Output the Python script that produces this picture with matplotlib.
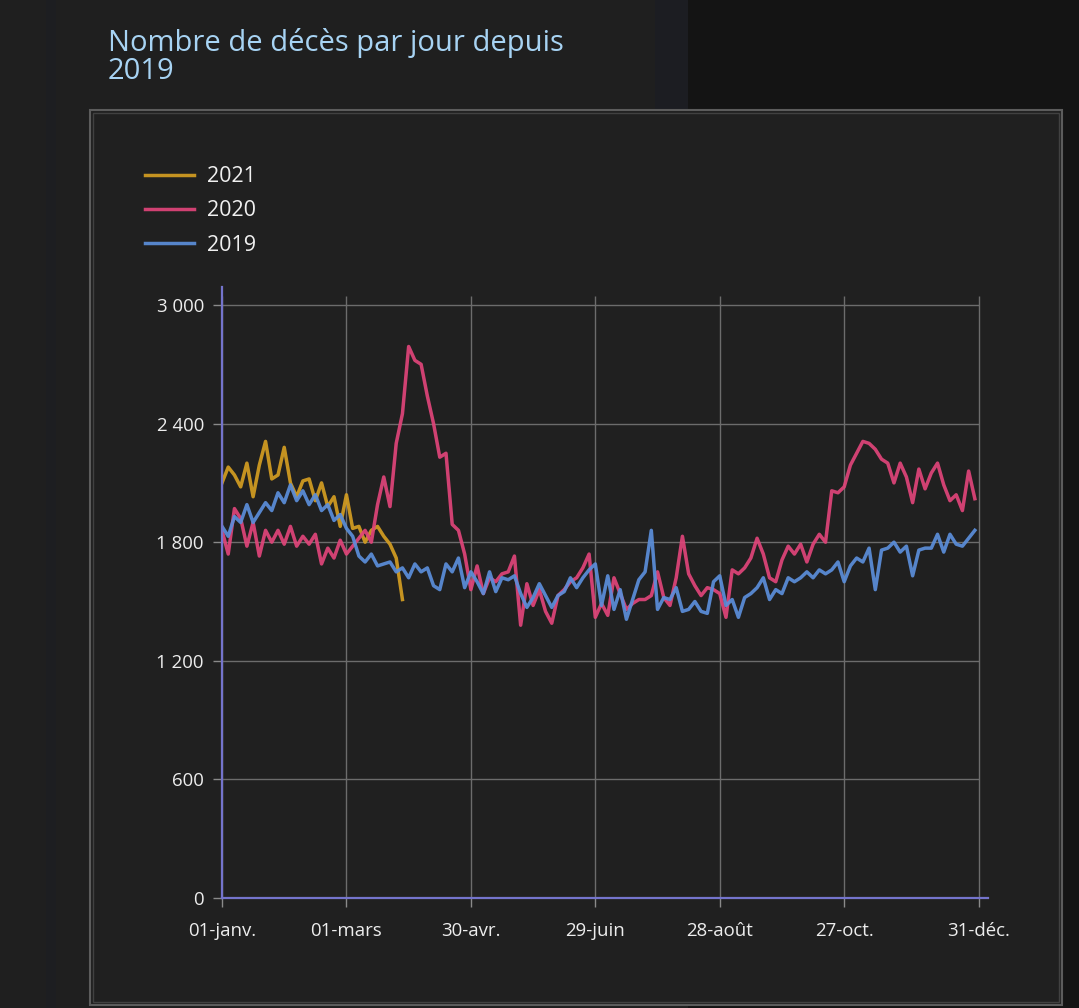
import numpy as np
import matplotlib
matplotlib.use("Agg")
import matplotlib.pyplot as plt
from matplotlib.patches import Rectangle

plt.rcParams["font.family"] = ["Open Sans", "DejaVu Sans"]

# -----------------------------
# Données (un point tous les 3 jours)
# -----------------------------
pas_jours = 3

deces_2019 = [
    1880, 1830, 1930, 1900, 1990, 1900, 1950, 2000, 1960, 2050,
    2000, 2090, 2010, 2060, 1990, 2040, 1960, 1990, 1910, 1940,
    1870, 1830, 1730, 1700, 1740, 1680, 1690, 1700, 1650, 1670,
    1620, 1690, 1650, 1670, 1580, 1560, 1690, 1650, 1720, 1570,
    1650, 1600, 1540, 1650, 1550, 1620, 1610, 1630, 1540, 1470,
    1520, 1590, 1530, 1470, 1530, 1550, 1620, 1570, 1620, 1660,
    1690, 1480, 1630, 1460, 1560, 1410, 1510, 1610, 1650, 1860,
    1460, 1520, 1510, 1570, 1450, 1460, 1500, 1450, 1440, 1600,
    1630, 1480, 1510, 1420, 1520, 1540, 1570, 1620, 1510, 1560,
    1540, 1620, 1600, 1620, 1650, 1620, 1660, 1640, 1660, 1700,
    1600, 1680, 1720, 1700, 1770, 1560, 1760, 1770, 1800, 1750,
    1780, 1630, 1760, 1770, 1770, 1840, 1750, 1840, 1790, 1780,
    1820, 1860,
]

deces_2020 = [
    1860, 1740, 1970, 1920, 1780, 1900, 1730, 1860, 1800, 1860,
    1790, 1880, 1780, 1830, 1790, 1840, 1690, 1770, 1720, 1810,
    1740, 1780, 1820, 1860, 1800, 1990, 2130, 1980, 2300, 2450,
    2790, 2720, 2700, 2540, 2400, 2230, 2250, 1890, 1860, 1740,
    1560, 1680, 1540, 1620, 1600, 1640, 1650, 1730, 1380, 1590,
    1480, 1560, 1450, 1390, 1530, 1560, 1600, 1620, 1670, 1740,
    1420, 1490, 1430, 1620, 1540, 1460, 1490, 1510, 1510, 1530,
    1650, 1520, 1480, 1620, 1830, 1640, 1580, 1530, 1570, 1560,
    1540, 1420, 1660, 1640, 1670, 1720, 1820, 1740, 1620, 1600,
    1710, 1780, 1740, 1790, 1700, 1790, 1840, 1800, 2060, 2050,
    2080, 2190, 2250, 2310, 2300, 2270, 2220, 2200, 2100, 2200,
    2130, 2000, 2170, 2070, 2150, 2200, 2090, 2010, 2040, 1960,
    2160, 2020,
]

deces_2021 = [
    2100, 2180, 2140, 2080, 2200, 2030, 2190, 2310, 2120, 2140,
    2280, 2100, 2030, 2110, 2120, 2010, 2100, 1980, 2030, 1880,
    2040, 1870, 1880, 1800, 1860, 1880, 1830, 1790, 1720, 1510,
]

annees = ["2021", "2020", "2019"]
series = {"2021": deces_2021, "2020": deces_2020, "2019": deces_2019}
couleurs = {"2021": "#d49e22", "2020": "#e0457a", "2019": "#5b8edb"}

ticks_jours = [0, 60, 120, 180, 240, 300, 365]
ticks_dates = ["01-janv.", "01-mars", "30-avr.", "29-juin", "28-août", "27-oct.", "31-déc."]
ticks_deces = [0, 600, 1200, 1800, 2400, 3000]

# -----------------------------
# Mise en page (en pixels)
# -----------------------------
W, H = 1079, 1008

fig = plt.figure(figsize=(W / 100, H / 100), dpi=100, facecolor="#141414")


def rect_px(x0, y0, x1, y1, **kw):
    return Rectangle((x0 / W, 1 - y1 / H), (x1 - x0) / W, (y1 - y0) / H,
                     transform=fig.transFigure, zorder=-10, **kw)


# panneau de gauche + cadre du graphique
fig.add_artist(rect_px(0, 0, 688, H, facecolor="#1f1f1f", edgecolor="none"))
fig.add_artist(rect_px(655, 0, 688, 110, facecolor="#1c1d22", edgecolor="none"))
fig.add_artist(rect_px(46, 0, 56, H, facecolor="#1d1e21", edgecolor="none"))
fig.add_artist(rect_px(90, 110, 1062, 1005, facecolor="#202020",
                       edgecolor="#5c5c5c", linewidth=1.5))
fig.add_artist(rect_px(93, 113, 1059, 1002, facecolor="none",
                       edgecolor="#414141", linewidth=1))

# va="baseline" s'aligne sur la dernière ligne
fig.text(108 / W, 1 - 79 / H, "Nombre de décès par jour depuis\n2019",
         color="#a7d3f3", fontsize=21, ha="left", va="baseline", linespacing=0.97)

ax = fig.add_axes([222 / W, 1 - 898 / H, (988 - 222) / W, (898 - 287) / H])
ax.set_facecolor("none")
ax.set_xlim(0, 365 * 766 / 757)
ax.set_ylim(0, 3000 * 611 / 593)

# grille
ax.hlines(ticks_deces, 0, 365, color="#6c6c6c", linewidth=1, zorder=1)
ax.vlines(ticks_jours, 0, 3045, color="#6c6c6c", linewidth=1, zorder=1)

lignes = {}
for annee in annees:
    valeurs = series[annee]
    jours = np.arange(len(valeurs)) * pas_jours
    (ligne,) = ax.plot(jours, valeurs, color=couleurs[annee], linewidth=2.5,
                       alpha=0.92, solid_joinstyle="round", zorder=3)
    lignes[annee] = ligne

ax.set_xticks(ticks_jours)
ax.set_xticklabels(ticks_dates)
ax.set_yticks(ticks_deces)
ax.set_yticklabels([f"{v:,}".replace(",", " ") for v in ticks_deces])

ax.tick_params(axis="both", colors="#8a8a8a", labelcolor="#ededed",
               labelsize=13.4, length=6.5, width=1)
ax.tick_params(axis="y", pad=6.5)
ax.tick_params(axis="x", pad=10.5)

for cote in ["top", "right"]:
    ax.spines[cote].set_visible(False)
for cote in ["left", "bottom"]:
    ax.spines[cote].set_color("#7474cc")
    ax.spines[cote].set_linewidth(1.6)
    ax.spines[cote].set_zorder(4)

fig.legend([lignes[a] for a in annees], annees,
           loc="center left", bbox_to_anchor=(145 / W, 1 - 211 / H),
           frameon=False, fontsize=15.5, handlelength=2.28, handletextpad=0.6,
           labelspacing=0.62, borderpad=0, borderaxespad=0, labelcolor="#f0f0f0")

fig.savefig("out.png", dpi=100, facecolor=fig.get_facecolor())
